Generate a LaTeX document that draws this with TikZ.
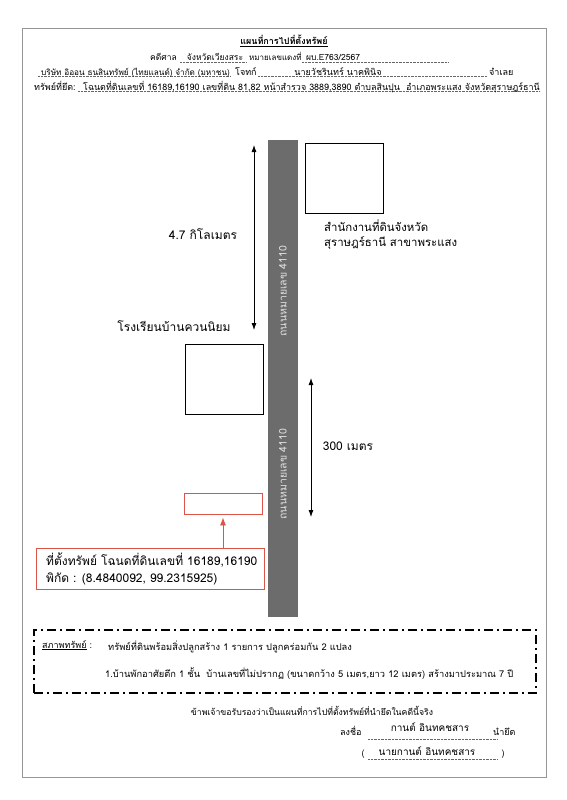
\documentclass[tikz,border=0pt]{standalone}
\usepackage{fontspec}
\newfontfamily\thaifont[Script=Thai]{Loma}
\usetikzlibrary{calc, positioning, arrows.meta}

\definecolor{roadgray}{RGB}{108,108,108}
\definecolor{markred}{RGB}{219,84,72}
\definecolor{framegray}{RGB}{150,150,150}

\begin{document}
\begin{tikzpicture}[x=1pt, y=-1pt,
        hdtxt/.style={font=\thaifont\fontsize{9}{10}\selectfont, inner sep=0pt, anchor=base},
        maptxt/.style={font=\thaifont\fontsize{12}{15}\selectfont, inner sep=0pt, align=left},
        roadtxt/.style={font=\thaifont\fontsize{10.5}{11}\selectfont, text=black!12, rotate=90, inner sep=0pt},
        placebox/.style={draw=black, thick, inner sep=0pt, minimum width=78pt, minimum height=70pt},
        dimarrow/.style={{Latex[length=7pt,width=5pt]}-{Latex[length=7pt,width=5pt]}, thick},
        dotline/.style={densely dotted, black!60, line width=0.4pt},
        dashbox/.style={draw, line width=1.6pt, dash pattern=on 9pt off 4pt on 2pt off 4pt, inner sep=0pt},
    ]
    \useasboundingbox (0,0) rectangle (567,800);
    \draw[framegray] (22,28) rectangle (546,777);

    % ====== header ======
    \node[hdtxt, font=\thaifont\bfseries\fontsize{9}{11}\selectfont] (title) at (284,45) {\underline{แผนที่การไปที่ตั้งทรัพย์}};

    \node[hdtxt, anchor=base west, font=\thaifont\fontsize{8.5}{9}\selectfont] (court) at (150,61) {คดีศาล};
    \draw[dotline] (180,62) -- (246,62);
    \node[hdtxt, font=\thaifont\fontsize{8.5}{9}\selectfont] (province) at (215,61) {จังหวัดเวียงสระ};
    \node[hdtxt, anchor=base west, font=\thaifont\fontsize{8}{9}\selectfont] (redno) at (249,61) {หมายเลขแดงที่};
    \draw[dotline] (302,62) -- (448,62);
    \node[hdtxt, anchor=base west, font=\thaifont\fontsize{8.5}{9}\selectfont] (caseno) at (306,61) {ผบ.E763/2567};

    \draw[dotline] (38,76) -- (231,76);
    \node[hdtxt, anchor=base west, font=\thaifont\fontsize{8.2}{9}\selectfont] (plaintiff) at (41,75) {บริษัท อิออน ธนสินทรัพย์ (ไทยแลนด์) จำกัด (มหาชน)};
    \node[hdtxt, anchor=base west] (plabel) at (235,75) {โจทก์};
    \draw[dotline] (258,76) -- (487,76);
    \node[hdtxt] (defendant) at (338,75) {นายวัชรินทร์ นาคพินิจ};
    \node[hdtxt, anchor=base west] (dlabel) at (489,75) {จำเลย};

    \node[hdtxt, anchor=base west] (seized) at (34,90) {ทรัพย์ที่ยึด:};
    \draw[dotline] (78,91) -- (540,91);
    \node[hdtxt, anchor=base west, font=\thaifont\fontsize{8.95}{10}\selectfont] (deed) at (83,90) {โฉนดที่ดินเลขที่ 16189,16190 เลขที่ดิน 81,82 หน้าสำรวจ 3889,3890 ตำบลสินปุน\ \ อำเภอพระแสง จังหวัดสุราษฎร์ธานี};

    % ====== road ======
    \node[fill=roadgray, minimum width=30pt, minimum height=477pt, inner sep=0pt] (road) at (283,378.5) {};
    \node[roadtxt] (roadA) at (283,291) {ถนนหมายเลข 4110};
    \node[roadtxt] (roadB) at (283,474) {ถนนหมายเลข 4110};

    % ====== places ======
    \node[placebox] (office) at (344,178) {};
    \node[maptxt, anchor=north west, font=\thaifont\fontsize{11.4}{15}\selectfont] (officelbl) at (324,220) {สำนักงานที่ดินจังหวัด\\สุราษฎร์ธานี สาขาพระแสง};
    \node[placebox] (school) at (224,379) {};
    \node[maptxt] (schoollbl) at (174,326) {โรงเรียนบ้านควนนิยม};
    \node[draw=markred, thick, minimum width=78pt, minimum height=21pt, inner sep=0pt] (site) at (223,503.5) {};

    % ====== distances ======
    \coordinate (kmtop) at (254,145);
    \coordinate (kmbot) at (254,330);
    \draw[dimarrow] (kmtop) -- (kmbot);
    \node[maptxt] (kmlbl) at (203,234) {4.7 กิโลเมตร};
    \coordinate (mtop) at (311,378);
    \coordinate (mbot) at (311,517);
    \draw[dimarrow] (mtop) -- (mbot);
    \node[maptxt] (mlbl) at (348,446) {300 เมตร};

    % ====== callout ======
    \node[draw=markred, thick, minimum width=228pt, minimum height=41pt, inner sep=0pt, anchor=north west] (callout) at (36,548) {};
    \node[maptxt, anchor=west] (calltxt) at (46,569) {ที่ตั้งทรัพย์ โฉนดที่ดินเลขที่ 16189,16190\\[2pt]พิกัด : (8.4840092, 99.2315925)};
    \draw[markred, thick, -{Latex[length=8pt,width=6pt]}, shorten >=3pt] (callout.north -| site) -- (site.south);

    % ====== condition ======
    \node[dashbox, minimum width=502pt, minimum height=63pt, anchor=north west] (condition) at (33,629) {};
    \node[hdtxt, anchor=base west] (condlbl) at (42,648) {\underline{สภาพทรัพย์} :};
    \node[hdtxt, anchor=base west, font=\thaifont\fontsize{9.3}{10}\selectfont] (cond1) at (108,650) {ทรัพย์ที่ดินพร้อมสิ่งปลูกสร้าง 1 รายการ ปลูกคร่อมกัน 2 แปลง};
    \node[hdtxt, anchor=base west, font=\thaifont\fontsize{9.3}{10}\selectfont] (cond2) at (105,677) {1.บ้านพักอาศัยตึก 1 ชั้น\ \ บ้านเลขที่ไม่ปรากฏ (ขนาดกว้าง 5 เมตร,ยาว 12 เมตร) สร้างมาประมาณ 7 ปี};

    % ====== signature ======
    \node[hdtxt, font=\thaifont\fontsize{8.7}{10}\selectfont] (certify) at (312,715) {ข้าพเจ้าขอรับรองว่าเป็นแผนที่การไปที่ตั้งทรัพย์ที่นำยึดในคดีนี้จริง};
    \node[hdtxt, anchor=base west] (signlbl) at (340,735) {ลงชื่อ};
    \draw[dotline] (368,739) -- (497,739);
    \node[hdtxt, font=\thaifont\fontsize{10}{11}\selectfont] (signer) at (430,731) {กานต์ อินทคชสาร};
    \node[hdtxt, anchor=base west] (seizer) at (493,735) {นำยึด};
    \node[hdtxt] (lparen) at (363,756) {(};
    \draw[dotline] (368,759) -- (497,759);
    \node[hdtxt, font=\thaifont\fontsize{10}{11}\selectfont] (signname) at (427,755) {นายกานต์ อินทคชสาร};
    \node[hdtxt] (rparen) at (503,756) {)};
\end{tikzpicture}
\end{document}
